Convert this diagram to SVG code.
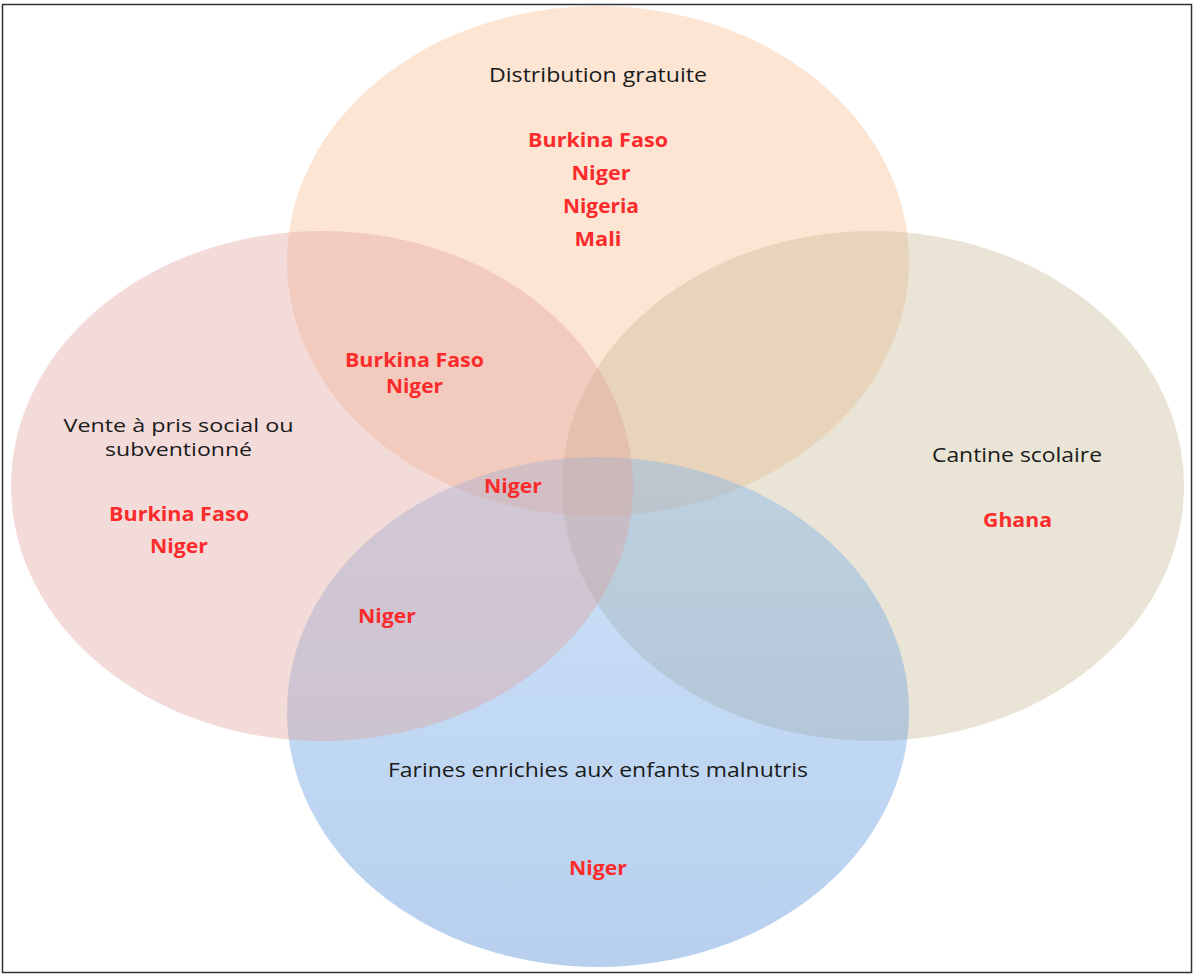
<svg xmlns="http://www.w3.org/2000/svg" width="1195" height="974" viewBox="0 0 1195 974">
  <defs>
    <linearGradient id="blueGrad" x1="0" y1="0" x2="0" y2="1">
      <stop offset="0" stop-color="#7ab2ee"/>
      <stop offset="1" stop-color="#4383d2"/>
    </linearGradient>
    <style>
      .set { fill-opacity: 0.38; stroke: none; }
      .title { font-family: "Open Sans", "Noto Sans", sans-serif; font-size: 20px; fill: #1a1a1a; text-anchor: middle; }
      .title2 { font-family: "Open Sans", "Noto Sans", sans-serif; font-size: 17.5px; fill: #1a1a1a; text-anchor: middle; }
      .country { font-family: "Open Sans", "Noto Sans", sans-serif; font-size: 20px; font-weight: bold; fill: #fb2b2b; text-anchor: middle; }
    </style>
  </defs>
  <rect x="2.5" y="4.5" width="1189" height="968" fill="#ffffff" stroke="#333333" stroke-width="1.5"/>
  <g id="set-distribution">
    <ellipse class="set" cx="598" cy="261" rx="311" ry="255" fill="#fabb8e"/>
  </g>
  <g id="set-cantine">
    <ellipse class="set" cx="873" cy="486" rx="311" ry="255" fill="#c5b893"/>
  </g>
  <g id="set-farines">
    <ellipse class="set" cx="598" cy="712" rx="311" ry="255" fill="url(#blueGrad)"/>
  </g>
  <g id="set-vente">
    <ellipse class="set" cx="322" cy="486" rx="311" ry="255" fill="#e0a09a"/>
  </g>
  <g id="connectors"></g>
  <g id="labels">
    <text class="title" x="598" y="82" textLength="218" lengthAdjust="spacingAndGlyphs">Distribution gratuite</text>
    <text class="country" x="598" y="147" textLength="140" lengthAdjust="spacingAndGlyphs">Burkina Faso</text>
    <text class="country" x="601" y="180" textLength="59" lengthAdjust="spacingAndGlyphs">Niger</text>
    <text class="country" x="601" y="213" textLength="76" lengthAdjust="spacingAndGlyphs">Nigeria</text>
    <text class="country" x="598" y="246" textLength="47" lengthAdjust="spacingAndGlyphs">Mali</text>

    <text class="title2" x="178.5" y="432" textLength="230" lengthAdjust="spacingAndGlyphs">Vente à pris social ou</text>
    <text class="title2" x="178.5" y="456" textLength="147" lengthAdjust="spacingAndGlyphs">subventionné</text>
    <text class="country" x="179" y="521" textLength="140" lengthAdjust="spacingAndGlyphs">Burkina Faso</text>
    <text class="country" x="179" y="553" textLength="58" lengthAdjust="spacingAndGlyphs">Niger</text>

    <text class="country" x="414.5" y="367" textLength="139" lengthAdjust="spacingAndGlyphs">Burkina Faso</text>
    <text class="country" x="414.5" y="393" textLength="57" lengthAdjust="spacingAndGlyphs">Niger</text>

    <text class="country" x="513" y="493" textLength="58" lengthAdjust="spacingAndGlyphs">Niger</text>

    <text class="title" x="1017" y="462" textLength="170" lengthAdjust="spacingAndGlyphs">Cantine scolaire</text>
    <text class="country" x="1017.5" y="527" textLength="69" lengthAdjust="spacingAndGlyphs">Ghana</text>

    <text class="country" x="387" y="623" textLength="58" lengthAdjust="spacingAndGlyphs">Niger</text>

    <text class="title" x="598" y="777" textLength="420" lengthAdjust="spacingAndGlyphs">Farines enrichies aux enfants malnutris</text>
    <text class="country" x="598" y="875" textLength="58" lengthAdjust="spacingAndGlyphs">Niger</text>
  </g>
</svg>
